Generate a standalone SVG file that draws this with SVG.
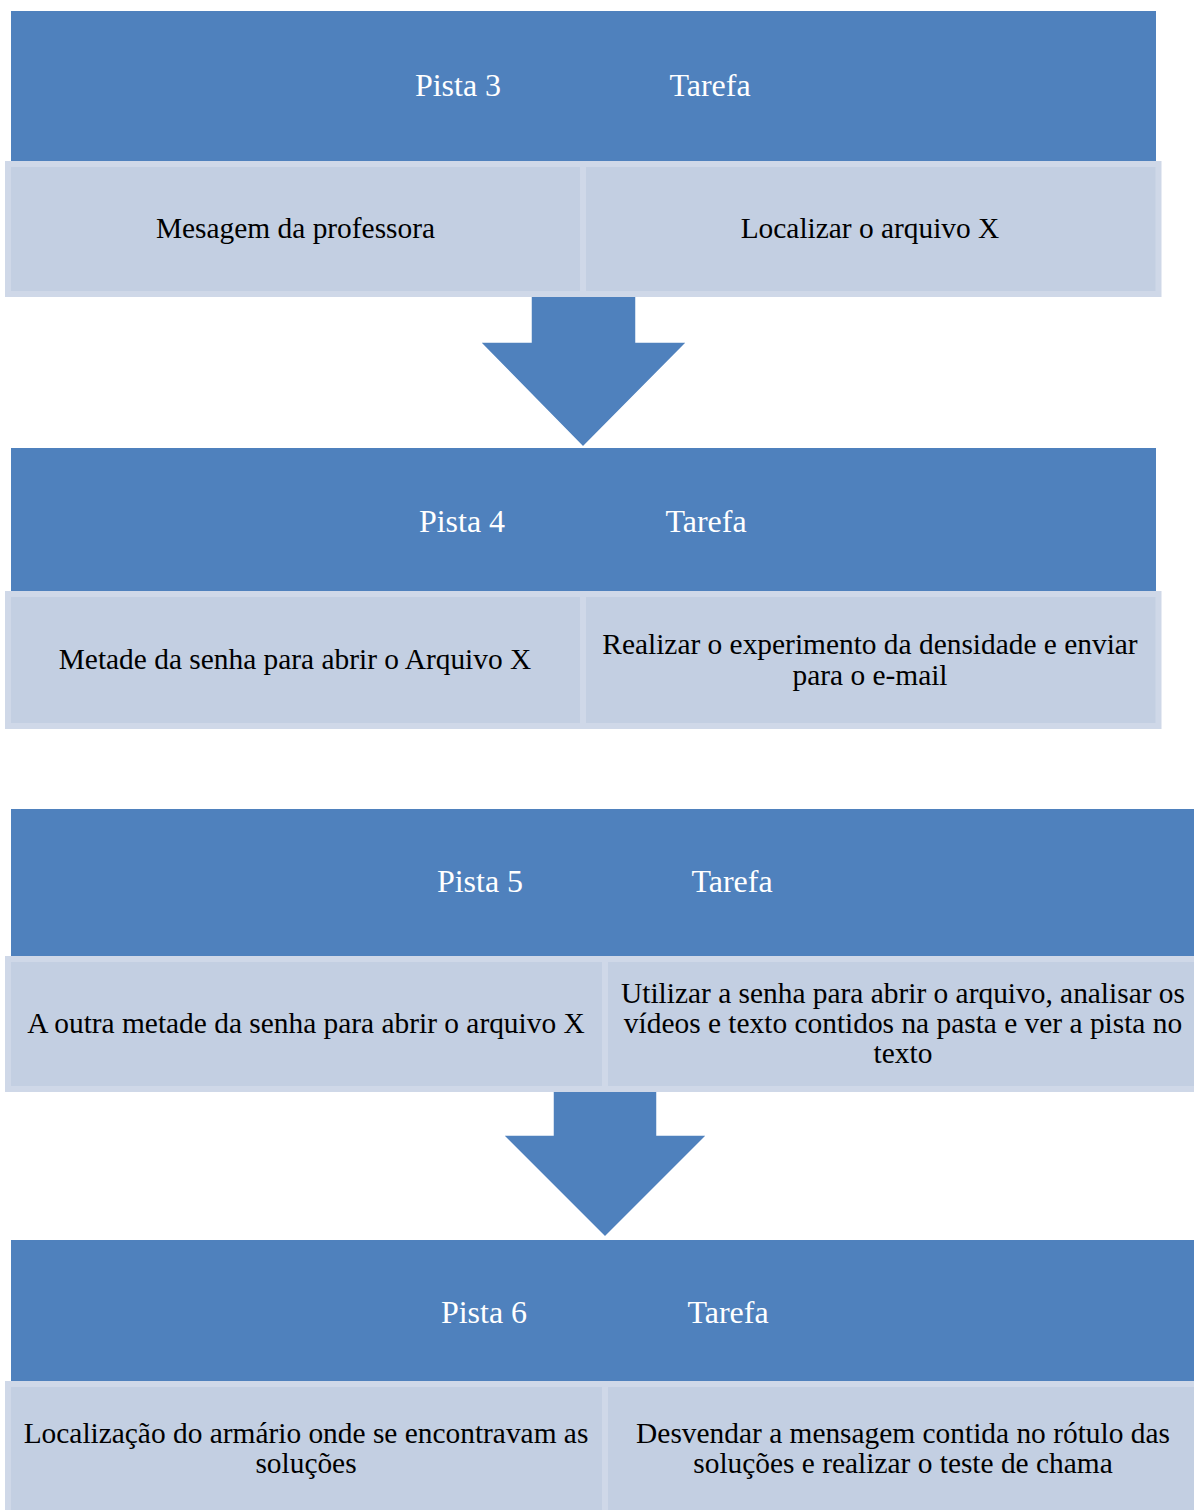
<svg xmlns="http://www.w3.org/2000/svg" width="1194" height="1510" viewBox="0 0 1194 1510">
<style>
.hdr{fill:#4F81BD}
.cell{fill:#C3CFE2;stroke:#CFD8E8;stroke-width:6}
.arrow{fill:#4F81BD;stroke:#FFFFFF;stroke-width:1.5;stroke-linejoin:miter}
text{font-family:"Liberation Serif","Times New Roman",serif;font-size:29.4px;text-anchor:middle}
.ht{fill:#FFFFFF;font-size:32px}
.bt{fill:#000000}
</style>
<rect width="1194" height="1510" fill="#FFFFFF"/>
<g id="connectors">
<polygon class="arrow" points="531,292 636,292 636,342 687,342 583,447 480,342 531,342"/>
<polygon class="arrow" points="553,1088 657,1088 657,1135 707,1135 605,1237 503,1135 553,1135"/>
</g>
<g id="pista3">
<rect class="hdr" x="11" y="11" width="1145" height="150"/>
<text class="ht" x="458" y="96">Pista 3</text>
<text class="ht" x="710" y="96">Tarefa</text>
<rect class="cell" x="8" y="164" width="575" height="130"/>
<rect class="cell" x="583" y="164" width="575.5" height="130"/>
<text class="bt" x="295.5" y="238">Mesagem da professora</text>
<text class="bt" x="870" y="238">Localizar o arquivo X</text>
</g>
<g id="pista4">
<rect class="hdr" x="11" y="448" width="1145" height="143"/>
<text class="ht" x="462" y="532">Pista 4</text>
<text class="ht" x="706" y="532">Tarefa</text>
<rect class="cell" x="8" y="594" width="575" height="132"/>
<rect class="cell" x="583" y="594" width="575.5" height="132"/>
<text class="bt" x="295" y="669">Metade da senha para abrir o Arquivo X</text>
<text class="bt" x="870" y="654">Realizar o experimento da densidade e enviar</text>
<text class="bt" x="870" y="685">para o e-mail</text>
</g>
<g id="pista5">
<rect class="hdr" x="11" y="809" width="1200" height="147"/>
<text class="ht" x="480" y="892">Pista 5</text>
<text class="ht" x="732" y="892">Tarefa</text>
<rect class="cell" x="8" y="959" width="597" height="130"/>
<rect class="cell" x="605" y="959" width="597" height="130"/>
<text class="bt" x="306" y="1033">A outra metade da senha para abrir o arquivo X</text>
<text class="bt" x="903" y="1003">Utilizar a senha para abrir o arquivo, analisar os</text>
<text class="bt" x="903" y="1033">vídeos e texto contidos na pasta e ver a pista no</text>
<text class="bt" x="903" y="1063">texto</text>
</g>
<g id="pista6">
<rect class="hdr" x="11" y="1240" width="1200" height="141"/>
<text class="ht" x="484" y="1323">Pista 6</text>
<text class="ht" x="728" y="1323">Tarefa</text>
<rect class="cell" x="8" y="1384" width="597" height="134"/>
<rect class="cell" x="605" y="1384" width="597" height="134"/>
<text class="bt" x="306" y="1443">Localização do armário onde se encontravam as</text>
<text class="bt" x="306" y="1473">soluções</text>
<text class="bt" x="903" y="1443">Desvendar a mensagem contida no rótulo das</text>
<text class="bt" x="903" y="1473">soluções e realizar o teste de chama</text>
</g>
</svg>
